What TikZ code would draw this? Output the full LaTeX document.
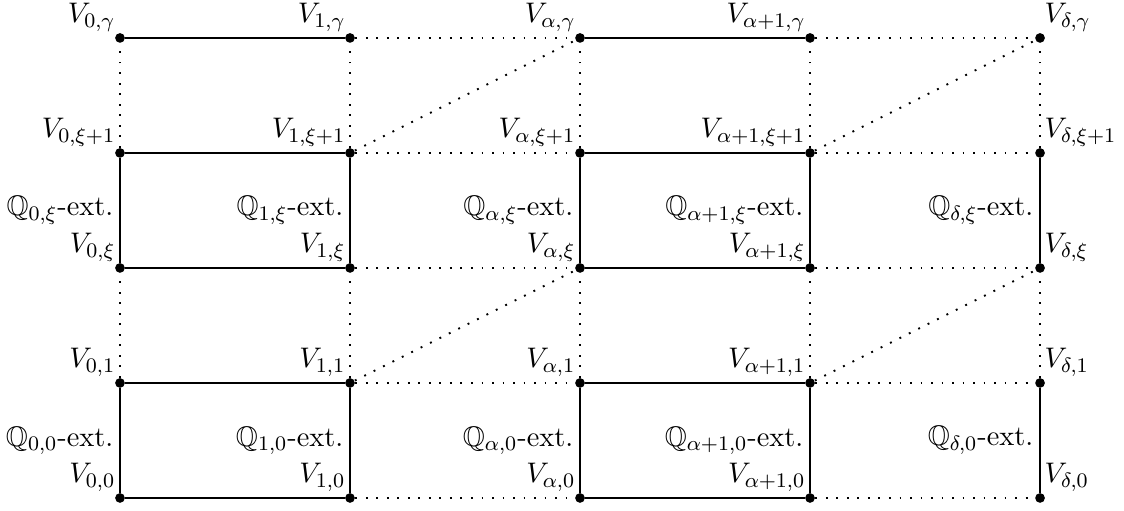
\documentclass[11pt,tikz,border=0pt]{standalone}
\usepackage{amssymb}
\begin{document}
\begin{tikzpicture}[
  pt/.style={circle,fill=black,inner sep=0pt,minimum size=3.6pt},
  solidedge/.style={line width=0.9pt},
  dotedge/.style={line width=0.7pt,dash pattern=on 0.7pt off 3.2pt},
  lab/.style={inner xsep=1.6pt,inner ysep=2.4pt,scale=0.96},
  qlab/.style={inner sep=2.4pt,scale=0.96}
]
\useasboundingbox (-1.565,-0.157) rectangle (13.095,6.495);
% points: columns a=0, b=1, c=alpha, d=alpha+1, e=delta ; rows 0=0, 1=1, 2=xi, 3=xi+1, 4=gamma
\foreach \c/\x in {a/0,b/3,c/6,d/9,e/12}{
  \foreach \r/\y in {0/0,1/1.5,2/3,3/4.5,4/6}{
    \node[pt] (\c\r) at (\x,\y) {};
  }
}
% horizontal edges
\foreach \r in {0,1,2,3,4}{
  \draw[solidedge] (a\r) -- (b\r);
  \draw[solidedge] (c\r) -- (d\r);
  \draw[dotedge] (b\r) -- (c\r);
  \draw[dotedge] (d\r) -- (e\r);
}
% vertical edges
\foreach \c in {a,b,c,d,e}{
  \draw[solidedge] (\c0) -- (\c1);
  \draw[solidedge] (\c2) -- (\c3);
  \draw[dotedge] (\c1) -- (\c2);
  \draw[dotedge] (\c3) -- (\c4);
}
% diagonals
\draw[dotedge] (b1) -- (c2);
\draw[dotedge] (d1) -- (e2);
\draw[dotedge] (b3) -- (c4);
\draw[dotedge] (d3) -- (e4);
% V labels
\foreach \c/\s in {a/0,b/1,c/\alpha,d/\alpha+1}{
  \node[lab,above left] (L\c4) at (\c4) {$V_{\s,\gamma}$};
  \node[lab,above left] (L\c3) at (\c3) {$V_{\s,\xi+1}$};
  \node[lab,above left] (L\c2) at (\c2) {$V_{\s,\xi}$};
  \node[lab,above left] (L\c1) at (\c1) {$V_{\s,1}$};
  \node[lab,above left] (L\c0) at (\c0) {$V_{\s,0}$};
}
\node[lab,above right] (Le4) at (e4) {$V_{\delta,\gamma}$};
\node[lab,above right] (Le3) at (e3) {$V_{\delta,\xi+1}$};
\node[lab,above right] (Le2) at (e2) {$V_{\delta,\xi}$};
\node[lab,above right] (Le1) at (e1) {$V_{\delta,1}$};
\node[lab,above right] (Le0) at (e0) {$V_{\delta,0}$};
% Q labels
\foreach \c/\x/\s in {a/0/0,b/3/1,c/6/\alpha,d/9/\alpha+1,e/12/\delta}{
  \node[qlab,left] (Q\c1) at (\x,3.75) {$\mathbb{Q}_{\s,\xi}$-ext.};
  \node[qlab,left] (Q\c0) at (\x,0.75) {$\mathbb{Q}_{\s,0}$-ext.};
}
\end{tikzpicture}
\end{document}
